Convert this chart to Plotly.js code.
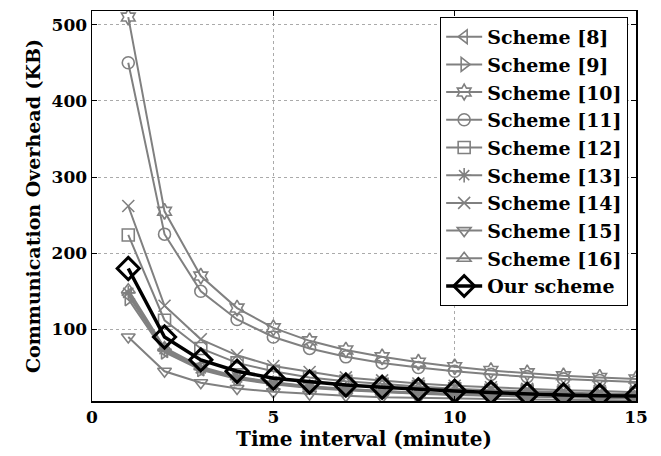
<!DOCTYPE html>
<html>
<head>
<meta charset="utf-8">
<script src="https://cdn.plot.ly/plotly-3.0.1.min.js"></script>
<style>html,body{margin:0;padding:0;background:#fff;}#chart{width:661px;height:456px;}</style>
</head>
<body>
<div id="chart"></div>
<script>
var timeInterval = [1,2,3,4,5,6,7,8,9,10,11,12,13,14,15];
var scheme8  = [145,72,48,36,29,24,21,18,16,14.5,13,12,11,10.5,10];
var scheme9  = [140,70,47,35,28,23,20,17.5,15.5,14,13,12,11,10,9.5];
var scheme10 = [510,255,170,128,102,85,73,64,57,51,46,43,39,37,35];
var scheme11 = [450,225,150,113,90,75,64,56,50,45,41,38,35,33,31];
var scheme12 = [224,112,75,56,45,37,32,28,25,22,20,19,17,16,15];
var scheme13 = [148,74,49,37,30,25,21,18.5,16.5,15,13.5,12.5,11.5,10.5,10];
var scheme14 = [262,131,87,66,52,44,37,33,29,26,24,22,20,19,17.5];
var scheme15 = [90,45,30,22.5,18,15,13,11,10,9,8.5,8,7.5,7,6.8];
var scheme16 = [152,76,51,38,30.5,25.5,22,19,17,15,14,13,12,11,10.5];
var ourScheme = [180,90,60,45,36,31,27,24,21,19,17,15,14,13,12.5];

var names = ['Scheme [8]','Scheme [9]','Scheme [10]','Scheme [11]','Scheme [12]','Scheme [13]','Scheme [14]','Scheme [15]','Scheme [16]'];
var series = [scheme8,scheme9,scheme10,scheme11,scheme12,scheme13,scheme14,scheme15,scheme16];
var symbols = ['triangle-left-open','triangle-right-open','hexagram-open','circle-open','square-open','asterisk-open','x-thin-open','triangle-down-open','triangle-up-open'];

var gray = '#808080';
var traces = series.map(function(s,i){
  return {
    x: timeInterval, y: s, name: names[i], type: 'scatter', mode: 'lines+markers',
    line: {color: gray, width: 2},
    marker: {symbol: symbols[i], size: 12, color: gray, line: {color: gray, width: 1.6}}
  };
});
traces.push({
  x: timeInterval, y: ourScheme, name: 'Our scheme', type: 'scatter', mode: 'lines+markers',
  line: {color: '#000', width: 3.5},
  marker: {symbol: 'diamond-open', size: 17, color: '#000', line: {color: '#000', width: 3}}
});

var fontFam = '"DejaVu Serif", "Liberation Serif", serif';
var layout = {
  width: 661, height: 456,
  margin: {l: 92, r: 25, t: 11, b: 55},
  paper_bgcolor: '#fff', plot_bgcolor: '#fff',
  font: {family: fontFam, size: 17, color: '#000', weight: 'bold'},
  showlegend: true,
  xaxis: {
    range: [0, 15], tickvals: [0,5,10,15], ticktext: ['0','5','10','15'],
    ticks: 'inside', ticklen: 5, tickwidth: 1, tickcolor: '#000',
    showline: true, linecolor: '#000', linewidth: 1.5, mirror: 'ticks',
    showgrid: true, gridcolor: '#aaa', griddash: 'dot', gridwidth: 1,
    zeroline: false,
    tickfont: {family: fontFam, size: 17, weight: 'bold'},
    title: {text: 'Time interval (minute)', font: {family: fontFam, size: 20, weight: 'bold'}, standoff: 2}
  },
  yaxis: {
    range: [6, 518], tickvals: [100,200,300,400,500],
    ticks: 'inside', ticklen: 5, tickwidth: 1, tickcolor: '#000',
    showline: true, linecolor: '#000', linewidth: 1.5, mirror: 'ticks',
    showgrid: true, gridcolor: '#aaa', griddash: 'dot', gridwidth: 1,
    zeroline: false,
    tickfont: {family: fontFam, size: 17, weight: 'bold'},
    title: {text: 'Communication Overhead (KB)', font: {family: fontFam, size: 19, weight: 'bold'}, standoff: 6}
  },
  legend: {
    x: 0.64, y: 0.985, xanchor: 'left', yanchor: 'top',
    bgcolor: '#fff', bordercolor: '#000', borderwidth: 1,
    font: {family: fontFam, size: 19, weight: 'bold', color: '#000'},
    tracegroupgap: 0, itemwidth: 36
  }
};
Plotly.newPlot('chart', traces, layout, {displayModeBar: false, staticPlot: true});
</script>
</body>
</html>
